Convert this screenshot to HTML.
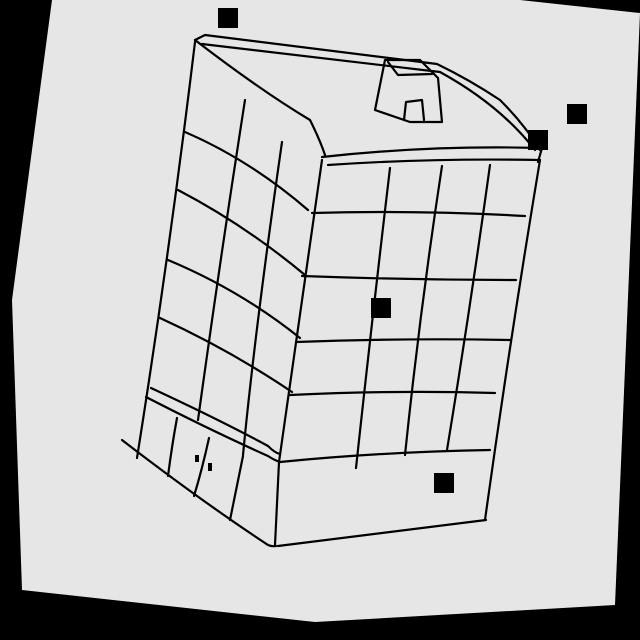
<!DOCTYPE html>
<html><head><meta charset="utf-8"><style>
html,body{margin:0;padding:0;background:#000;width:640px;height:640px;overflow:hidden}
svg{display:block}
</style></head><body>
<svg width="640" height="640" viewBox="0 0 640 640">
<rect width="640" height="640" fill="#000"/>
<polygon points="52,0 520,0 640,13 615,605 315,622 22,590 12,300" fill="#e6e6e6"/>
<g fill="none" stroke="#000" stroke-width="2.2" stroke-linecap="round" stroke-linejoin="round">
<path d="M195,40 L205,35 L437,64 Q470,80 500,100 Q525,125 540,150"/>
<path d="M202,44 L440,72 Q500,105 535,150"/>
<path d="M195,40 Q260,90 310,120 Q320,140 325,155"/>
<path d="M322,157 Q430,145 542,148 L538,162"/>
<path d="M328,165 Q430,158 540,160"/>
<path d="M195,42 Q170,250 137,458"/>
<path d="M322,160 Q295,350 279,462 Q277,500 275,545"/>
<path d="M540,160 Q510,340 485,520"/>
<path d="M278,546 L486,520"/>
<path d="M122,440 Q200,500 265,543 Q270,547 276,546"/>
<path d="M185,132 Q250,160 308,210"/>
<path d="M178,190 Q245,225 305,275"/>
<path d="M168,260 Q240,290 300,338"/>
<path d="M160,318 Q230,350 292,392"/>
<path d="M151,388 Q220,420 268,446 Q275,453 280,454"/>
<path d="M146,397 Q210,430 268,456 Q274,460 280,462"/>
<path d="M312,213 Q420,210 525,216"/>
<path d="M302,276 Q410,280 516,280"/>
<path d="M296,342 Q400,338 510,340"/>
<path d="M290,395 Q395,390 495,393"/>
<path d="M280,462 Q380,452 490,450"/>
<path d="M390,168 Q372,320 356,468"/>
<path d="M442,166 Q420,310 405,455"/>
<path d="M490,165 Q470,310 447,450"/>
<path d="M245,100 Q220,260 198,420"/>
<path d="M282,142 Q255,330 243,455"/>
<path d="M177,418 Q172,445 168,476"/>
<path d="M209,438 Q202,470 194,496"/>
<path d="M243,456 Q236,490 230,520"/>
<path d="M385,60 L375,110 L410,122 L442,122 L438,78 L420,60 Z"/>
<path d="M388,62 L398,75 L432,74"/>
<path d="M404,120 L406,102 L422,100 L424,120"/>
</g>
<rect x="195" y="455" width="4" height="7" fill="#000"/>
<rect x="208" y="463" width="4" height="8" fill="#000"/>
<rect x="218" y="8" width="20" height="20" fill="#000"/>
<rect x="567" y="104" width="20" height="20" fill="#000"/>
<rect x="528" y="130" width="20" height="20" fill="#000"/>
<rect x="371" y="298" width="20" height="20" fill="#000"/>
<rect x="434" y="473" width="20" height="20" fill="#000"/>
</svg>
</body></html>
